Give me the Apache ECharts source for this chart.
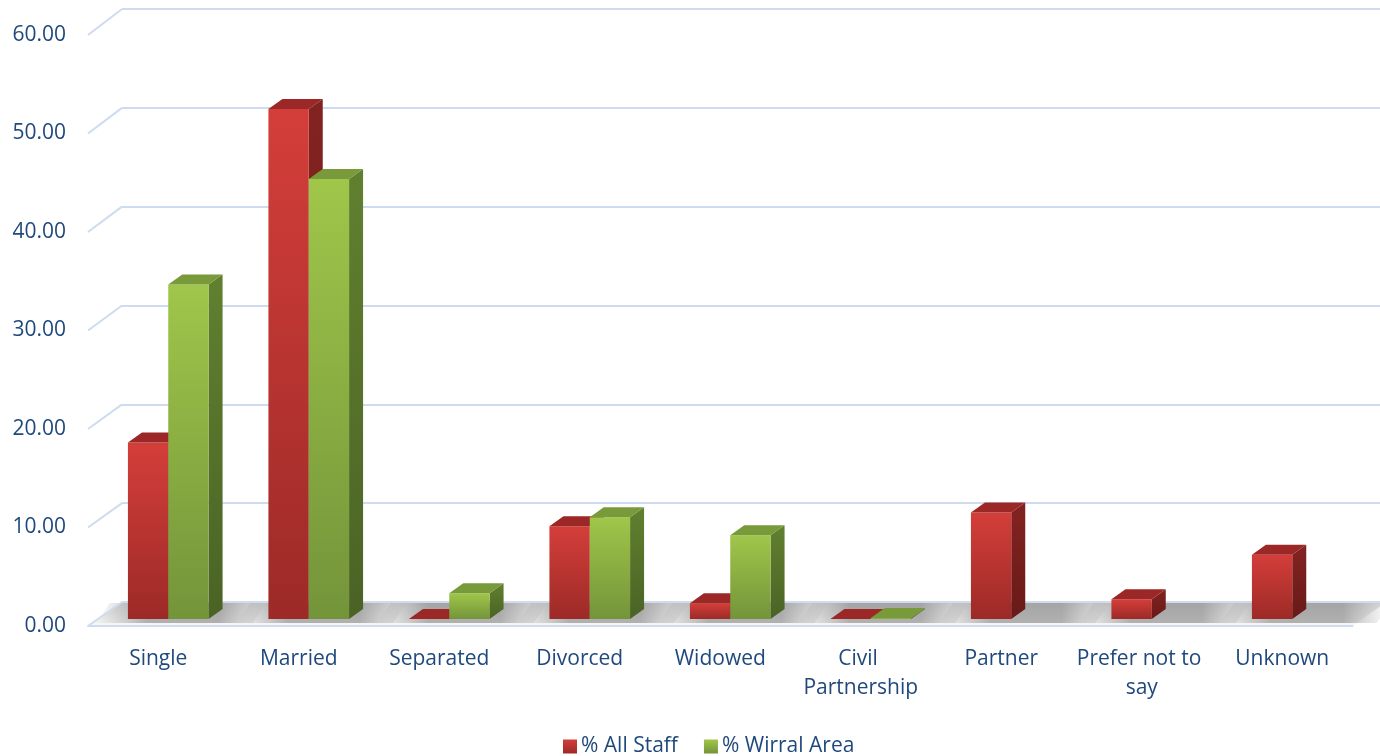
<!DOCTYPE html>
<html>
<head>
<meta charset="utf-8">
<script src="https://cdn.jsdelivr.net/npm/echarts@6/dist/echarts.min.js"></script>
<style>
html,body{margin:0;padding:0;background:#fff;}
#chart{width:1380px;height:756px;}
</style>
</head>
<body>
<div id="chart"></div>
<script>
// ---- data ----
const categories = ['Single', 'Married', 'Separated', 'Divorced', 'Widowed', 'Civil Partnership', 'Partner', 'Prefer not to say', 'Unknown'];
const allStaff = [17.9, 51.7, 0, 9.4, 1.6, 0, 10.8, 2.0, 6.5];
const wirralArea = [33.9, 44.6, 2.6, 10.3, 8.5, 0.1, 0, 0, 0];
const seriesNames = ['% All Staff', '% Wirral Area'];
const yTicks = [0, 10, 20, 30, 40, 50, 60];

// ---- layout (pixel constants) ----
const BAR = {left: 98, width: 1264.5, top: 27, height: 592};     // plane of bar front faces
const FRONT = {left: 88, width: 1264.5, top: 35, height: 591};   // front edge plane (labels)
const BACK = {left: 122, right: 0, top: 9, height: 593};         // back wall
const DX = 14, DY = -10;                                        // bar depth offset
const FONT = '"Open Sans", "Liberation Sans", sans-serif';
const TXT = '#1F497D';
const GRIDC = '#cfdbf0';

const G = echarts.graphic;
const redFront = new G.LinearGradient(0, 0, 0, 1, [{offset: 0, color: '#d43e3a'}, {offset: 1, color: '#9c2a27'}]);
const redTop = '#9b2826';
const redSide = new G.LinearGradient(0, 0, 0, 1, [{offset: 0, color: '#832321'}, {offset: 1, color: '#681a18'}]);
const grnFront = new G.LinearGradient(0, 0, 0, 1, [{offset: 0, color: '#a0c64a'}, {offset: 1, color: '#74943a'}]);
const grnTop = '#789a3a';
const grnSide = new G.LinearGradient(0, 0, 0, 1, [{offset: 0, color: '#61802f'}, {offset: 1, color: '#4a6325'}]);

function barRenderer(sIdx, front, topc, side) {
  return function (params, api) {
    const cat = api.value(0), v = api.value(1);
    const base = api.coord([cat, 0]);
    const top = api.coord([cat, v]);
    const band = api.size([1, 0])[0];
    const w = band * 0.287;
    const x0 = base[0] - w + sIdx * w, x1 = x0 + w;
    const yb = base[1], yt = top[1];
    return {
      type: 'group',
      children: [
        {type: 'polygon', shape: {points: [[x1, yt], [x1 + DX, yt + DY], [x1 + DX, yb + DY], [x1, yb]]}, style: {fill: side}},
        {type: 'rect', shape: {x: x0, y: yt, width: w, height: Math.max(yb - yt, 0)}, style: {fill: front}},
        {type: 'polygon', shape: {points: [[x0, yt], [x1, yt], [x1 + DX, yt + DY], [x0 + DX, yt + DY]]}, style: {fill: topc}}
      ]
    };
  };
}

function shadowRenderer(params, api) {
  const cat = api.value(0);
  const base = api.coord([cat, 0]);
  const band = api.size([1, 0])[0];
  const w = band * 0.287;
  const xl = base[0] - w - 32, xr = base[0] + w + DX + 30;
  const yb = base[1] + 4, yt = base[1] + DY - 6;
  return {
    type: 'polygon', shape: {points: [[xl, yb], [xr, yb], [xr + 14, yt], [xl + 14, yt]]},
    style: {fill: new G.LinearGradient(0, 0, 1, 0, [
      {offset: 0, color: 'rgba(130,130,130,0)'},
      {offset: 0.3, color: 'rgba(110,110,110,0.5)'},
      {offset: 0.72, color: 'rgba(110,110,110,0.5)'},
      {offset: 1, color: 'rgba(130,130,130,0)'}])}
  };
}

const catIdx = categories.map((c, i) => i);
const option = {
  backgroundColor: '#ffffff',
  animation: false,
  textStyle: {fontFamily: FONT},
  grid: [
    {left: BAR.left, width: BAR.width, top: BAR.top, height: BAR.height},
    {left: FRONT.left, width: FRONT.width, top: FRONT.top, height: FRONT.height},
    {left: BACK.left, right: BACK.right, top: BACK.top, height: BACK.height}
  ],
  xAxis: [
    {type: 'category', gridIndex: 0, data: categories, show: false},
    {type: 'category', gridIndex: 1, data: categories,
      axisTick: {show: false},
      axisLine: {lineStyle: {color: GRIDC, width: 2}},
      axisLabel: {color: TXT, fontSize: 21, fontFamily: FONT, margin: 19, lineHeight: 29, interval: 0, width: 135, overflow: 'break'}},
    {type: 'value', gridIndex: 2, show: false, min: 0, max: 1}
  ],
  yAxis: [
    {type: 'value', gridIndex: 0, min: 0, max: 60, interval: 10, show: false},
    {type: 'value', gridIndex: 1, min: 0, max: 60, interval: 10,
      axisLine: {show: false}, axisTick: {show: false}, splitLine: {show: false},
      axisLabel: {color: TXT, fontSize: 21, fontFamily: FONT, margin: 22, formatter: v => v.toFixed(2)}},
    {type: 'value', gridIndex: 2, min: 0, max: 60, interval: 10,
      axisLine: {show: false}, axisTick: {show: false}, axisLabel: {show: false},
      splitLine: {show: true, lineStyle: {color: GRIDC, width: 2}}}
  ],
  legend: {
    data: seriesNames, left: 558, top: 731, itemGap: 26, itemWidth: 14, itemHeight: 14, icon: 'rect',
    textStyle: {color: TXT, fontSize: 21, fontFamily: FONT, padding: [0, 0, 0, -1]}
  },
  series: [
    {name: 'floorShadow', type: 'custom', xAxisIndex: 0, yAxisIndex: 0, z: 1, silent: true,
      renderItem: shadowRenderer, data: catIdx.map(i => [i, 0])},
    {name: seriesNames[0], type: 'custom', xAxisIndex: 0, yAxisIndex: 0, z: 3,
      itemStyle: {color: redFront},
      renderItem: barRenderer(0, redFront, redTop, redSide),
      data: allStaff.map((v, i) => [i, v])},
    {name: seriesNames[1], type: 'custom', xAxisIndex: 0, yAxisIndex: 0, z: 4,
      itemStyle: {color: grnFront},
      renderItem: barRenderer(1, grnFront, grnTop, grnSide),
      data: wirralArea.map((v, i) => [i, v]).filter(d => d[1] > 0 || categories[d[0]] === 'Separated' || categories[d[0]] === 'Civil Partnership')}
  ]
};

const chart = echarts.init(document.getElementById('chart'), null, {renderer: 'canvas'});
chart.setOption(option);

// perspective connectors and floor, from axis pixel positions
const elems = [];
const yf0 = chart.convertToPixel({yAxisIndex: 1}, 0);
const yb0 = chart.convertToPixel({yAxisIndex: 2}, 0);
const fr = FRONT.left + FRONT.width;
elems.push({type: 'polygon', z: -5, silent: true,
  shape: {points: [[FRONT.left, yf0], [fr, yf0], [fr + (BACK.left - FRONT.left), yb0], [BACK.left, yb0]]},
  style: {fill: new G.LinearGradient(0, 0, 0, 1, [{offset: 0, color: '#dadada'}, {offset: 1, color: '#f8f8f8'}])}});
yTicks.forEach(v => {
  const yf = chart.convertToPixel({yAxisIndex: 1}, v);
  const yb = chart.convertToPixel({yAxisIndex: 2}, v);
  elems.push({type: 'line', z: 5, silent: true,
    shape: {x1: FRONT.left, y1: yf, x2: BACK.left, y2: yb},
    style: {stroke: GRIDC, lineWidth: 2}});
});
chart.setOption({graphic: elems});
</script>
</body>
</html>
